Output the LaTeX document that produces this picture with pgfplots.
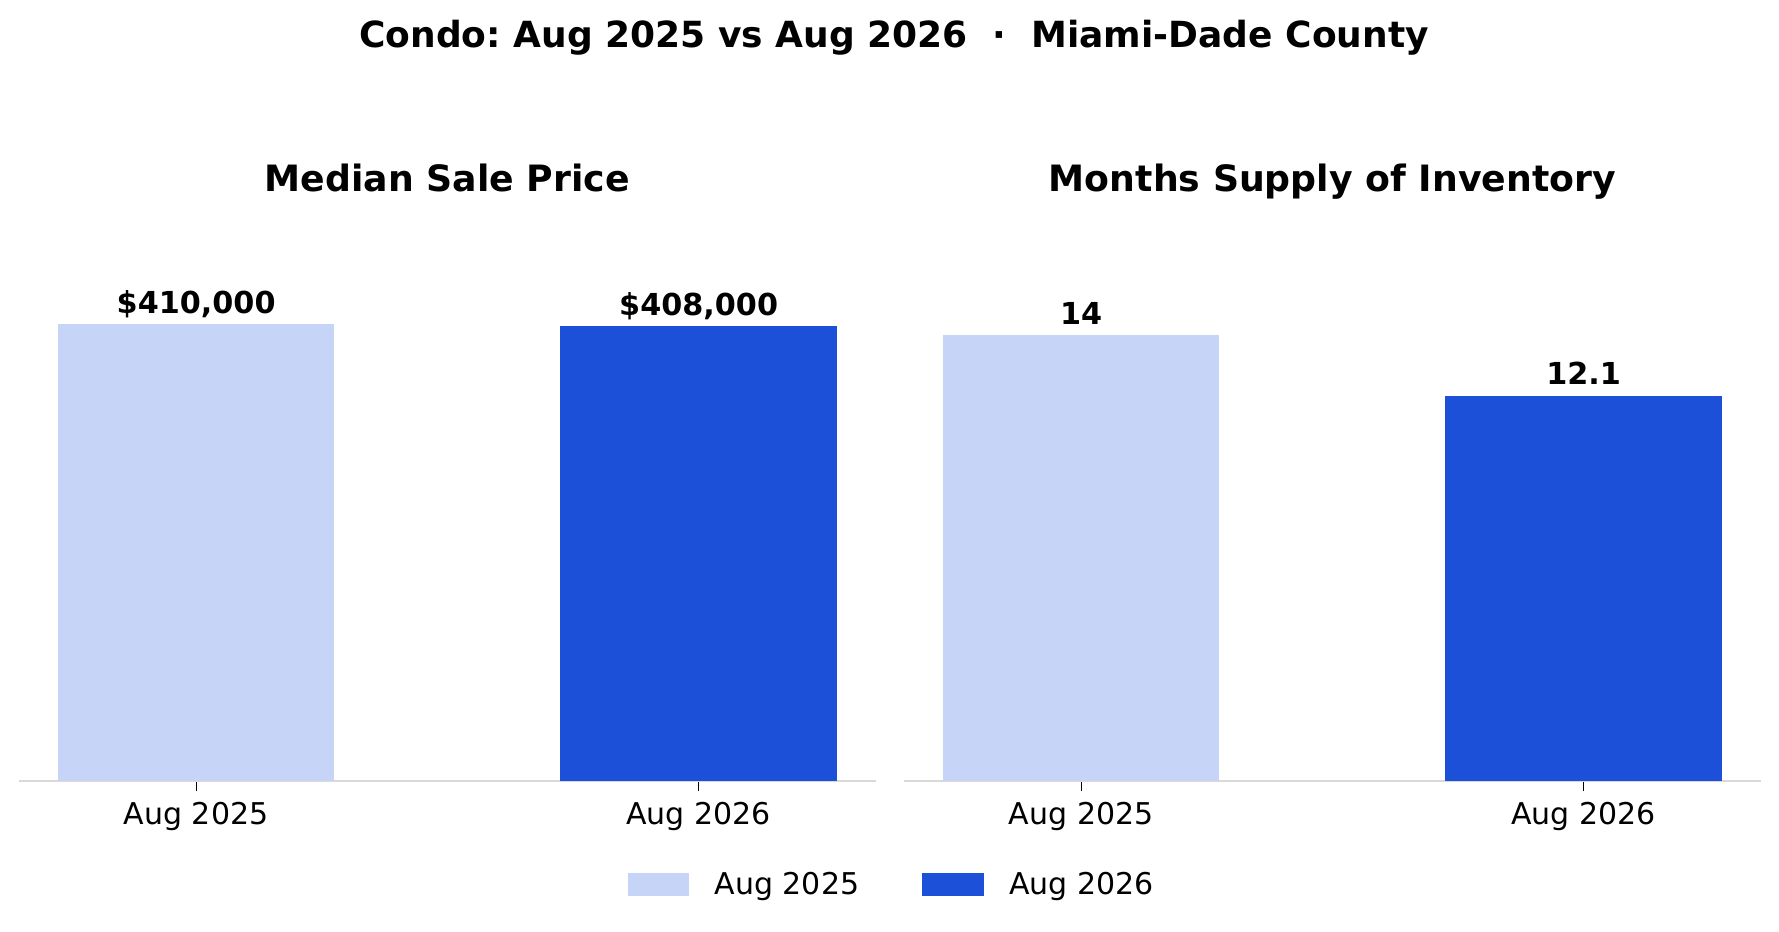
\documentclass[border=0pt]{standalone}
\usepackage{pgfplots}
\pgfplotsset{compat=1.18}
\usepackage{fontspec}
\setmainfont{DejaVu Sans}
\frenchspacing

\definecolor{lightbar}{HTML}{C6D4F8}
\definecolor{darkbar}{HTML}{1C50D8}
\definecolor{baseline}{HTML}{D9D9D9}

\pgfplotsset{
  panel/.style={
    scale only axis, width=342.7pt, height=212pt,
    xmin=-0.3525, xmax=1.3525, ymin=0,
    axis x line=bottom, axis y line=none,
    x axis line style={-, draw=baseline, line width=0.55pt},
    xtick={0,1}, xticklabels={Aug 2025, Aug 2026},
    ytick=\empty,
    tick align=outside, major tick length=4pt,
    x tick style={black, line width=0.5pt},
    xticklabel style={font=\fontsize{12}{14}\selectfont, anchor=base, yshift=-13.4pt},
    title style={at={(0.5,1)}, anchor=base, yshift=17.7pt,
      font=\fontsize{14.5}{17}\selectfont\bfseries},
    every node near coord/.append style={font=\fontsize{12.1}{14}\selectfont\bfseries,
      anchor=base, yshift=4.3pt, black},
    clip=false,
  },
  cbar/.style={ybar, bar width=0.55, bar shift=0pt, draw=none, fill=#1,
    legend image code/.code={\fill[##1] (0pt,-4.6pt) rectangle (24.5pt,4.6pt);}},
}

\begin{document}
\begin{tikzpicture}
\useasboundingbox (0,0) rectangle (711.6pt,372.4pt);

\node[anchor=base, font=\fontsize{14.4}{17}\selectfont\bfseries]
  at (357.6pt,353.2pt) {Condo: Aug 2025 vs Aug 2026\ \ ·\ \ Miami-Dade County};

% median sale price
\begin{axis}[panel, at={(7.6pt,60pt)}, anchor=south west,
    ymax=475492, title={Median Sale Price},
    legend columns=2,
    legend style={at={(0.710,-0.196)}, anchor=west, draw=none, fill=none,
      inner sep=0pt, nodes={inner sep=0pt, font=\fontsize{12}{14}\selectfont},
      /tikz/every odd column/.append style={column sep=10.3pt},
      /tikz/every even column/.append style={column sep=25.2pt}}]
  \addplot[cbar=lightbar, nodes near coords={\$410,000}] coordinates {(0,410000)};
  \addlegendentry{Aug 2025}
  \addplot[cbar=darkbar, nodes near coords={\$408,000}] coordinates {(1,408000)};
  \addlegendentry{Aug 2026}
\end{axis}

% months supply
\begin{axis}[panel, at={(361.6pt,60pt)}, anchor=south west,
    ymax=16.64, title={Months Supply of Inventory}]
  \addplot[cbar=lightbar, nodes near coords={14}] coordinates {(0,14)};
  \addplot[cbar=darkbar, nodes near coords={12.1}] coordinates {(1,12.1)};
\end{axis}
\end{tikzpicture}
\end{document}
